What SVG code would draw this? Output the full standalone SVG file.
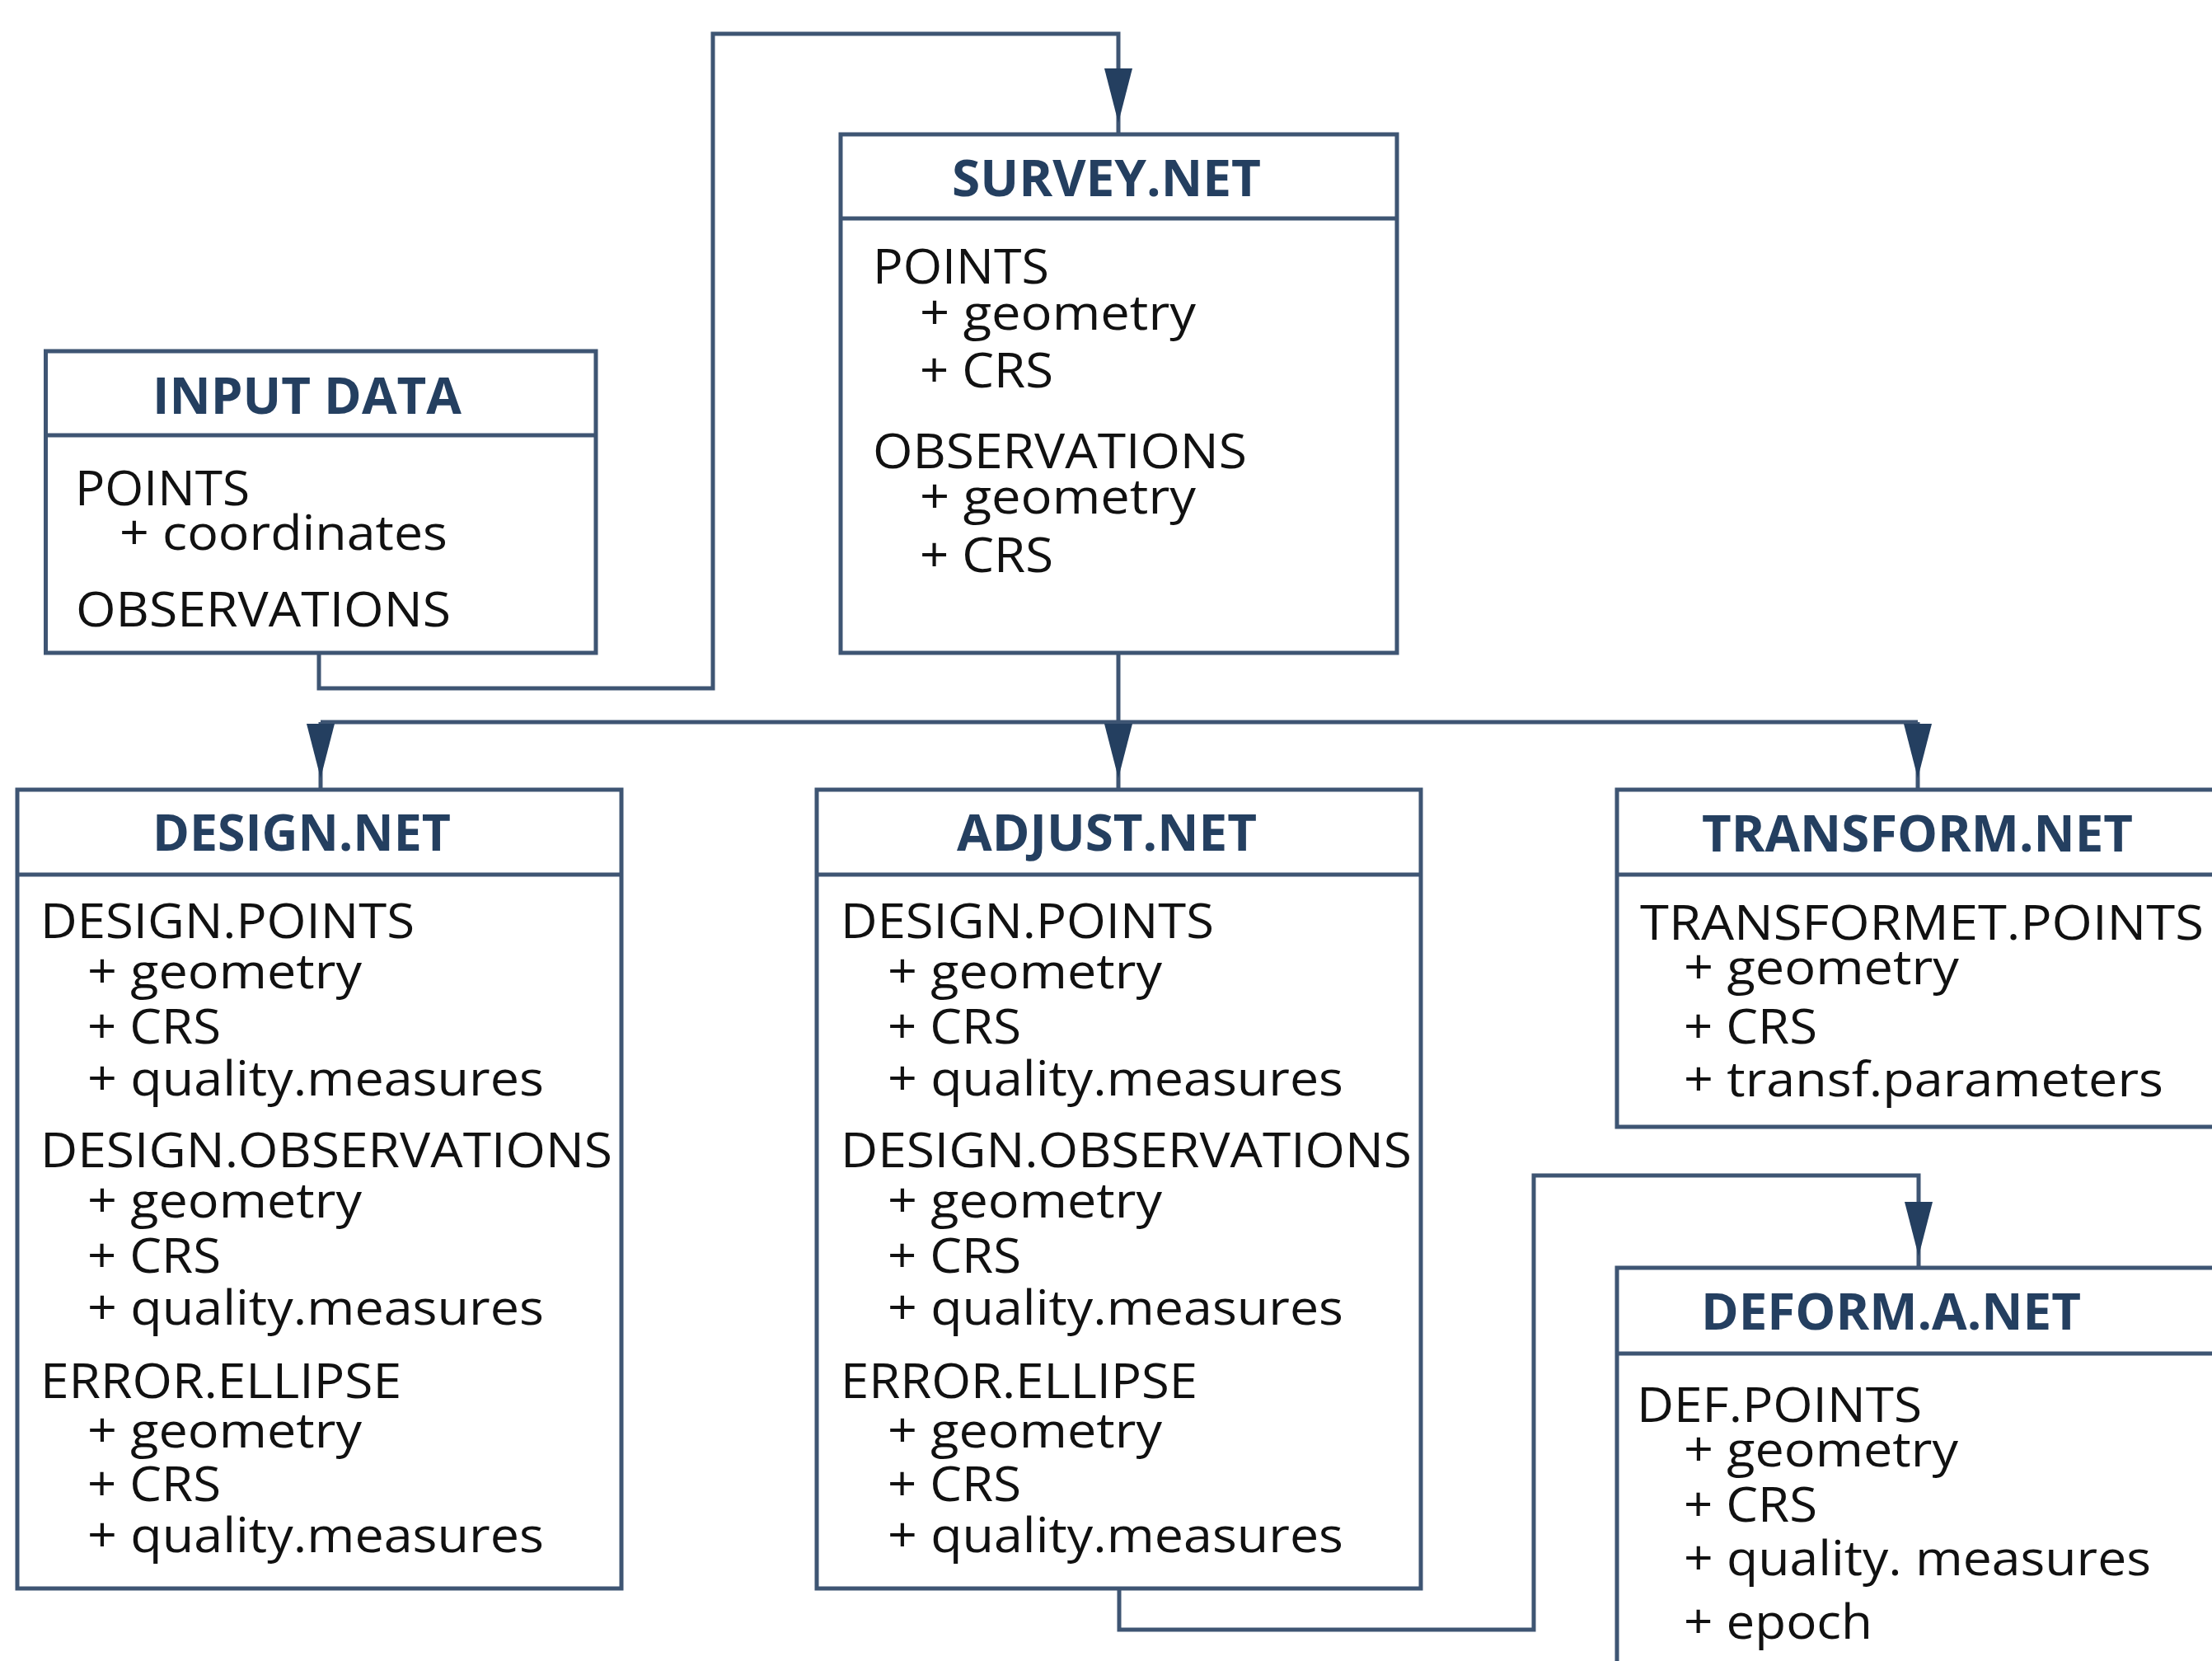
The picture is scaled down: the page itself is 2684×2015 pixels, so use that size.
<svg xmlns="http://www.w3.org/2000/svg" xmlns:xlink="http://www.w3.org/1999/xlink" width="2684" height="2015" viewBox="0 0 2684 2015">
  <style>
    .box { fill: #ffffff; stroke: #3e5573; stroke-width: 5; }
    .sep { stroke: #3e5573; stroke-width: 5; }
    .wire { fill: none; stroke: #3e5573; stroke-width: 5; stroke-linejoin: miter; }
    .head { fill: #243f60; }
    .title { font-family: "Open Sans", "Noto Sans", "Liberation Sans", sans-serif; font-weight: 700; font-size: 60px; fill: #243f60; }
    .t { font-family: "Open Sans", "Noto Sans", "Liberation Sans", sans-serif; font-size: 58px; fill: #111111; }
  </style>
  <defs>
    <path id="ah" d="M-17,-80 L17,-80 L0,-14 Z"/>
  </defs>
  <rect width="2684" height="2015" fill="#ffffff"/>

  <!-- connectors -->
  <g id="connectors">
    <path class="wire" d="M387,792 V835 H865 V41 H1357 V163"/>
    <path class="wire" d="M1357,792 V958"/>
    <path class="wire" d="M389,876 H2327"/>
    <path class="wire" d="M389,876 V958"/>
    <path class="wire" d="M2327,876 V958"/>
    <path class="wire" d="M1358,1927 V1977 H1861 V1426 H2328 V1538"/>
    <use class="head" href="#ah" x="1357" y="163"/>
    <use class="head" href="#ah" x="389" y="958"/>
    <use class="head" href="#ah" x="1357" y="958"/>
    <use class="head" href="#ah" x="2327" y="958"/>
    <use class="head" href="#ah" x="2328" y="1538"/>
  </g>

  <!-- INPUT DATA -->
  <g id="input-data">
    <rect class="box" x="55.5" y="426" width="667.5" height="366"/>
    <line class="sep" x1="55.5" y1="528" x2="723" y2="528"/>
    <text class="title" x="185" y="502" textLength="375" lengthAdjust="spacingAndGlyphs">INPUT DATA</text>
    <text class="t" x="91" y="613" textLength="212" lengthAdjust="spacingAndGlyphs">POINTS</text>
    <text class="t" x="145" y="667" textLength="398" lengthAdjust="spacingAndGlyphs">+ coordinates</text>
    <text class="t" x="92" y="760" textLength="455" lengthAdjust="spacingAndGlyphs">OBSERVATIONS</text>
  </g>

  <!-- SURVEY.NET -->
  <g id="survey-net">
    <rect class="box" x="1020" y="163" width="675" height="629"/>
    <line class="sep" x1="1020" y1="265" x2="1695" y2="265"/>
    <text class="title" x="1155" y="238" textLength="375" lengthAdjust="spacingAndGlyphs">SURVEY.NET</text>
    <text class="t" x="1059" y="344" textLength="214" lengthAdjust="spacingAndGlyphs">POINTS</text>
    <text class="t" x="1116" y="400" textLength="335" lengthAdjust="spacingAndGlyphs">+ geometry</text>
    <text class="t" x="1116" y="470" textLength="162" lengthAdjust="spacingAndGlyphs">+ CRS</text>
    <text class="t" x="1059" y="568" textLength="454" lengthAdjust="spacingAndGlyphs">OBSERVATIONS</text>
    <text class="t" x="1116" y="623" textLength="335" lengthAdjust="spacingAndGlyphs">+ geometry</text>
    <text class="t" x="1116" y="694" textLength="162" lengthAdjust="spacingAndGlyphs">+ CRS</text>
  </g>

  <!-- DESIGN.NET -->
  <g id="design-net">
    <rect class="box" x="21" y="958" width="733" height="969"/>
    <line class="sep" x1="21" y1="1061" x2="754" y2="1061"/>
    <text class="title" x="185" y="1032" textLength="362" lengthAdjust="spacingAndGlyphs">DESIGN.NET</text>
    <text class="t" x="49" y="1138" textLength="454" lengthAdjust="spacingAndGlyphs">DESIGN.POINTS</text>
    <text class="t" x="106" y="1199" textLength="333" lengthAdjust="spacingAndGlyphs">+ geometry</text>
    <text class="t" x="106" y="1266" textLength="162" lengthAdjust="spacingAndGlyphs">+ CRS</text>
    <text class="t" x="106" y="1329" textLength="554" lengthAdjust="spacingAndGlyphs">+ quality.measures</text>
    <text class="t" x="49" y="1416" textLength="694" lengthAdjust="spacingAndGlyphs">DESIGN.OBSERVATIONS</text>
    <text class="t" x="106" y="1477" textLength="333" lengthAdjust="spacingAndGlyphs">+ geometry</text>
    <text class="t" x="106" y="1544" textLength="162" lengthAdjust="spacingAndGlyphs">+ CRS</text>
    <text class="t" x="106" y="1607" textLength="554" lengthAdjust="spacingAndGlyphs">+ quality.measures</text>
    <text class="t" x="49" y="1696" textLength="438" lengthAdjust="spacingAndGlyphs">ERROR.ELLIPSE</text>
    <text class="t" x="106" y="1756" textLength="333" lengthAdjust="spacingAndGlyphs">+ geometry</text>
    <text class="t" x="106" y="1821" textLength="162" lengthAdjust="spacingAndGlyphs">+ CRS</text>
    <text class="t" x="106" y="1883" textLength="554" lengthAdjust="spacingAndGlyphs">+ quality.measures</text>
  </g>

  <!-- ADJUST.NET -->
  <g id="adjust-net">
    <rect class="box" x="991" y="958" width="733" height="969"/>
    <line class="sep" x1="991" y1="1061" x2="1724" y2="1061"/>
    <text class="title" x="1161" y="1032" textLength="364" lengthAdjust="spacingAndGlyphs">ADJUST.NET</text>
    <text class="t" x="1020" y="1138" textLength="453" lengthAdjust="spacingAndGlyphs">DESIGN.POINTS</text>
    <text class="t" x="1077" y="1199" textLength="333" lengthAdjust="spacingAndGlyphs">+ geometry</text>
    <text class="t" x="1077" y="1266" textLength="162" lengthAdjust="spacingAndGlyphs">+ CRS</text>
    <text class="t" x="1077" y="1329" textLength="553" lengthAdjust="spacingAndGlyphs">+ quality.measures</text>
    <text class="t" x="1020" y="1416" textLength="693" lengthAdjust="spacingAndGlyphs">DESIGN.OBSERVATIONS</text>
    <text class="t" x="1077" y="1477" textLength="333" lengthAdjust="spacingAndGlyphs">+ geometry</text>
    <text class="t" x="1077" y="1544" textLength="162" lengthAdjust="spacingAndGlyphs">+ CRS</text>
    <text class="t" x="1077" y="1607" textLength="553" lengthAdjust="spacingAndGlyphs">+ quality.measures</text>
    <text class="t" x="1020" y="1696" textLength="433" lengthAdjust="spacingAndGlyphs">ERROR.ELLIPSE</text>
    <text class="t" x="1077" y="1756" textLength="333" lengthAdjust="spacingAndGlyphs">+ geometry</text>
    <text class="t" x="1077" y="1821" textLength="162" lengthAdjust="spacingAndGlyphs">+ CRS</text>
    <text class="t" x="1077" y="1883" textLength="553" lengthAdjust="spacingAndGlyphs">+ quality.measures</text>
  </g>

  <!-- TRANSFORM.NET (runs past the right edge) -->
  <g id="transform-net">
    <rect class="box" x="1962" y="958" width="760" height="409"/>
    <line class="sep" x1="1962" y1="1061" x2="2722" y2="1061"/>
    <text class="title" x="2065" y="1033" textLength="523" lengthAdjust="spacingAndGlyphs">TRANSFORM.NET</text>
    <text class="t" x="1990" y="1140" textLength="684" lengthAdjust="spacingAndGlyphs">TRANSFORMET.POINTS</text>
    <text class="t" x="2043" y="1194" textLength="334" lengthAdjust="spacingAndGlyphs">+ geometry</text>
    <text class="t" x="2043" y="1266" textLength="162" lengthAdjust="spacingAndGlyphs">+ CRS</text>
    <text class="t" x="2043" y="1330" textLength="582" lengthAdjust="spacingAndGlyphs">+ transf.parameters</text>
  </g>

  <!-- DEFORM.A.NET (runs past the right and bottom edges) -->
  <g id="deform-a-net">
    <rect class="box" x="1962" y="1538" width="760" height="520"/>
    <line class="sep" x1="1962" y1="1642" x2="2722" y2="1642"/>
    <text class="title" x="2064" y="1613" textLength="461" lengthAdjust="spacingAndGlyphs">DEFORM.A.NET</text>
    <text class="t" x="1986" y="1725" textLength="346" lengthAdjust="spacingAndGlyphs">DEF.POINTS</text>
    <text class="t" x="2043" y="1779" textLength="333" lengthAdjust="spacingAndGlyphs">+ geometry</text>
    <text class="t" x="2043" y="1846" textLength="162" lengthAdjust="spacingAndGlyphs">+ CRS</text>
    <text class="t" x="2043" y="1911" textLength="567" lengthAdjust="spacingAndGlyphs">+ quality. measures</text>
    <text class="t" x="2043" y="1988" textLength="229" lengthAdjust="spacingAndGlyphs">+ epoch</text>
  </g>
</svg>
